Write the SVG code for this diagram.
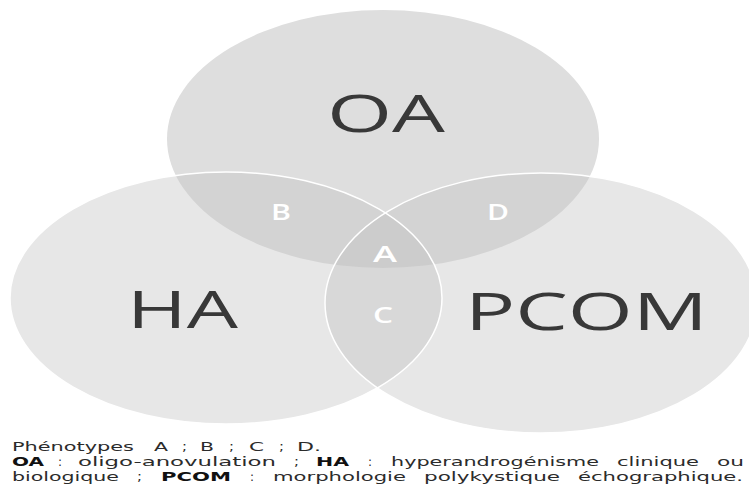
<svg xmlns="http://www.w3.org/2000/svg" width="749" height="486" viewBox="0 0 749 486">
<style>
.big{font-family:"Open Sans","DejaVu Sans",sans-serif;font-size:52px;fill:#383838}
.reg{font-family:"Open Sans","DejaVu Sans",sans-serif;font-size:21px;font-weight:600;fill:#ffffff}
.cap{font-family:"DejaVu Sans","Liberation Sans",sans-serif;font-size:12.6px;fill:#2b2b2b}
.b{font-weight:bold;fill:#111}
.low{fill:#c4c4c4;fill-opacity:0.4}
.edge{fill:none;stroke:#ffffff;stroke-width:1.5}
</style>
<rect width="749" height="486" fill="#ffffff"/>
<g id="node-OA">
<ellipse cx="383" cy="139" rx="216" ry="129" fill="#dedede"/>
<text class="big" x="327" y="132" textLength="118" lengthAdjust="spacingAndGlyphs">OA</text>
</g>
<g id="node-HA">
<ellipse class="low" cx="226" cy="298" rx="216" ry="126"/>
<text class="big" x="127" y="328" textLength="111" lengthAdjust="spacingAndGlyphs">HA</text>
</g>
<g id="node-PCOM">
<ellipse class="low" cx="541" cy="303" rx="216" ry="130"/>
<text class="big" x="465" y="330" textLength="243" lengthAdjust="spacingAndGlyphs">PCOM</text>
</g>
<g id="connectors">
<ellipse class="edge" cx="226" cy="298" rx="216" ry="126"/>
<ellipse class="edge" cx="541" cy="303" rx="216" ry="130"/>
</g>
<g id="regions">
<text class="reg" x="271" y="220" textLength="20" lengthAdjust="spacingAndGlyphs">B</text>
<text class="reg" x="487" y="220" textLength="22" lengthAdjust="spacingAndGlyphs">D</text>
<text class="reg" x="373" y="262" textLength="24" lengthAdjust="spacingAndGlyphs">A</text>
<text class="reg" x="373" y="323" textLength="20" lengthAdjust="spacingAndGlyphs">C</text>
</g>
<g id="caption">
<text class="cap" x="12" y="451" textLength="122" lengthAdjust="spacingAndGlyphs">Phénotypes</text>
<text class="cap" x="154" y="451" textLength="14" lengthAdjust="spacingAndGlyphs">A</text>
<text class="cap" x="182" y="451" textLength="5" lengthAdjust="spacingAndGlyphs">;</text>
<text class="cap" x="200" y="451" textLength="14" lengthAdjust="spacingAndGlyphs">B</text>
<text class="cap" x="229" y="451" textLength="5" lengthAdjust="spacingAndGlyphs">;</text>
<text class="cap" x="249" y="451" textLength="15" lengthAdjust="spacingAndGlyphs">C</text>
<text class="cap" x="279" y="451" textLength="5" lengthAdjust="spacingAndGlyphs">;</text>
<text class="cap" x="297" y="451" textLength="24" lengthAdjust="spacingAndGlyphs">D.</text>

<text class="cap b" x="12" y="466" textLength="32" lengthAdjust="spacingAndGlyphs">OA</text>
<text class="cap" x="58" y="466" textLength="4" lengthAdjust="spacingAndGlyphs">:</text>
<text class="cap" x="78" y="466" textLength="198" lengthAdjust="spacingAndGlyphs">oligo-anovulation</text>
<text class="cap" x="294" y="466" textLength="5" lengthAdjust="spacingAndGlyphs">;</text>
<text class="cap b" x="316" y="466" textLength="33" lengthAdjust="spacingAndGlyphs">HA</text>
<text class="cap" x="368" y="466" textLength="4" lengthAdjust="spacingAndGlyphs">:</text>
<text class="cap" x="391" y="466" textLength="208" lengthAdjust="spacingAndGlyphs">hyperandrogénisme</text>
<text class="cap" x="617" y="466" textLength="82" lengthAdjust="spacingAndGlyphs">clinique</text>
<text class="cap" x="717" y="466" textLength="27" lengthAdjust="spacingAndGlyphs">ou</text>

<text class="cap" x="12" y="481" textLength="107" lengthAdjust="spacingAndGlyphs">biologique</text>
<text class="cap" x="137" y="481" textLength="5" lengthAdjust="spacingAndGlyphs">;</text>
<text class="cap b" x="161" y="481" textLength="70" lengthAdjust="spacingAndGlyphs">PCOM</text>
<text class="cap" x="250" y="481" textLength="4" lengthAdjust="spacingAndGlyphs">:</text>
<text class="cap" x="273" y="481" textLength="133" lengthAdjust="spacingAndGlyphs">morphologie</text>
<text class="cap" x="424" y="481" textLength="136" lengthAdjust="spacingAndGlyphs">polykystique</text>
<text class="cap" x="578" y="481" textLength="165" lengthAdjust="spacingAndGlyphs">échographique.</text>
</g>
</svg>
